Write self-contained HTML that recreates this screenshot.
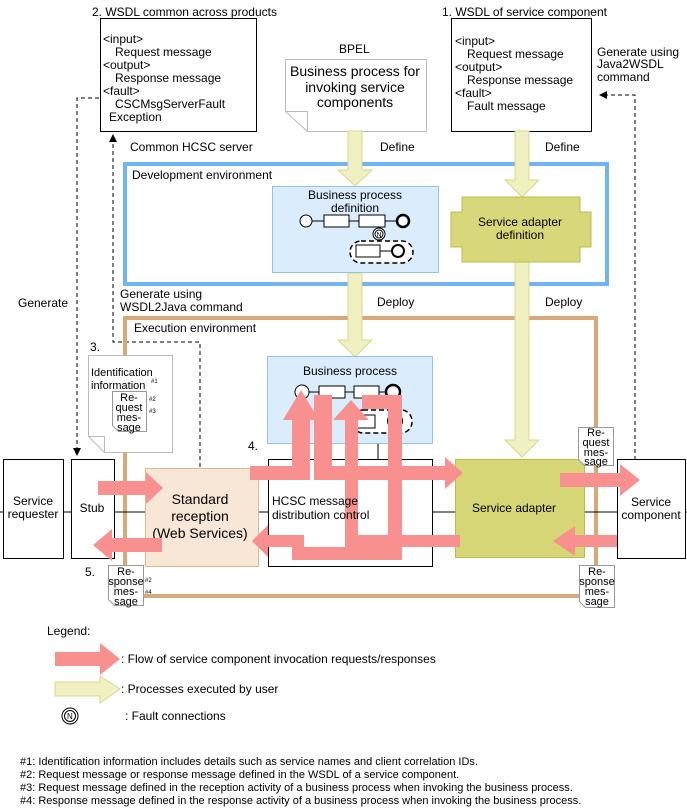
<!DOCTYPE html>
<html><head><meta charset="utf-8"><style>
body{margin:0;background:#fff}
svg{display:block;font-family:"Liberation Sans",sans-serif;font-size:12px}
</style></head><body>
<svg width="687" height="809" viewBox="0 0 687 809" xmlns="http://www.w3.org/2000/svg">
<defs>
<marker id="ah" markerWidth="8" markerHeight="8" refX="7" refY="4" orient="auto" markerUnits="userSpaceOnUse"><path d="M0,0L8,4L0,8z" fill="#000"/></marker>
</defs>
<!-- top WSDL boxes -->
<text x="92" y="16">2.  WSDL common across products</text>
<rect x="100.5" y="18.5" width="156" height="113" fill="#fff" stroke="#000"/>
<text x="103" y="43">&lt;input&gt;</text>
<text x="115" y="56">Request message</text>
<text x="103" y="69">&lt;output&gt;</text>
<text x="115" y="82">Response message</text>
<text x="103" y="95">&lt;fault&gt;</text>
<text x="115" y="108">CSCMsgServerFault</text>
<text x="109" y="121">Exception</text>

<text x="442" y="16">1.   WSDL of service component</text>
<rect x="451.5" y="18.5" width="140" height="113" fill="#fff" stroke="#000"/>
<text x="455" y="45">&lt;input&gt;</text>
<text x="467" y="58">Request message</text>
<text x="455" y="71">&lt;output&gt;</text>
<text x="467" y="84">Response message</text>
<text x="455" y="97">&lt;fault&gt;</text>
<text x="467" y="110">Fault message</text>
<text x="597" y="56">Generate using</text>
<text x="597" y="68">Java2WSDL</text>
<text x="597" y="81">command</text>

<text x="339" y="53">BPEL</text>
<path d="M285.5,59.5H426.5V131.5H307.5L285.5,111.5Z" fill="#fff" stroke="#bbb"/>
<path d="M285.5,111.5H307.5V131.5" fill="none" stroke="#bbb"/>
<g font-size="14" text-anchor="middle"><text x="355" y="76">Business process for</text><text x="355" y="92">invoking service</text><text x="355" y="107">components</text></g>

<!-- dashed connectors -->
<path d="M635,460V95H600" fill="none" stroke="#000" stroke-dasharray="4,3" marker-end="url(#ah)"/>
<path d="M99,98H77V455" fill="none" stroke="#000" stroke-dasharray="4,3" marker-end="url(#ah)"/>
<path d="M200,467V342H113V135" fill="none" stroke="#000" stroke-dasharray="4,3" marker-end="url(#ah)"/>

<text x="130" y="151">Common HCSC server</text>
<text x="380" y="151">Define</text>
<text x="545" y="151">Define</text>
<text x="120" y="298">Generate using</text>
<text x="120" y="311">WSDL2Java command</text>
<text x="377" y="306">Deploy</text>
<text x="545" y="306">Deploy</text>
<text x="18" y="307">Generate</text>

<!-- environments -->
<rect x="125" y="164" width="482" height="120" fill="none" stroke="#70b4f4" stroke-width="4"/>
<text x="132" y="179">Development environment</text>
<rect x="125" y="318" width="471" height="278" fill="none" stroke="#d9a878" stroke-width="4"/>
<text x="134" y="332">Execution environment</text>

<!-- cream arrows -->
<g fill="#f0f0c0" stroke="#d8d890">
<path d="M348,131H362V170H372L355,186L338,170H348Z"/>
<path d="M515,131H529V180H539L522,197L505,180H515Z"/>
<path d="M348,273H362V340H372L355,357L338,340H348Z"/>
<path d="M515,262H529V440H539L522,457L505,440H515Z"/>
</g>

<!-- BP definition -->
<rect x="272.5" y="186.5" width="166" height="86" fill="#dbecfc" stroke="#90c4f0"/>
<g text-anchor="middle"><text x="355" y="199">Business process</text><text x="355" y="212">definition</text></g>
<g stroke="#000" fill="#fff">
<line x1="306" y1="221" x2="400" y2="221"/>
<circle cx="306" cy="221" r="6"/>
<rect x="324" y="215" width="25" height="12"/>
<rect x="359" y="215" width="26" height="12"/>
<circle cx="403" cy="221" r="6" stroke-width="2.5"/>
<rect x="350" y="241" width="63" height="22" rx="11" stroke-dasharray="5,3" stroke-width="1.5"/>
<line x1="380" y1="251" x2="398" y2="251"/>
<rect x="356" y="245" width="24" height="12"/>
<circle cx="398" cy="251" r="6" stroke-width="2"/>
<circle cx="379" cy="234" r="6"/><circle cx="379" cy="234" r="4"/>
</g>
<text x="376.5" y="237" font-size="7">N</text>

<!-- service adapter def -->
<path d="M462,197H580V212H591V247H580V262H462V247H451V212H462Z" fill="#d8d87a" stroke="#bcbc48"/>
<g text-anchor="middle"><text x="520" y="226">Service adapter</text><text x="520" y="239">definition</text></g>

<!-- exec boxes -->
<rect x="267.5" y="356.5" width="165" height="87" fill="#dbecfc" stroke="#90c4f0"/>
<text x="350" y="375" text-anchor="middle">Business process</text>
<g stroke="#000" fill="#fff">
<line x1="302" y1="392" x2="392" y2="392"/>
<circle cx="302" cy="392" r="7"/>
<rect x="319" y="386" width="26" height="12"/>
<rect x="354" y="386" width="25" height="12"/>
<circle cx="393" cy="392" r="7" stroke-width="2.5"/>
<rect x="352" y="410" width="60" height="23" rx="11" stroke-dasharray="5,3" stroke-width="1.5"/>
<rect x="357" y="415" width="18" height="13"/>
<circle cx="395" cy="421" r="7" stroke-width="2"/>
</g>
<line x1="0" y1="512" x2="687" y2="512" stroke="#000"/>
<line x1="378" y1="444" x2="378" y2="459" stroke="#000"/>
<rect x="3.5" y="459.5" width="60" height="99" fill="#fff" stroke="#000"/>
<g text-anchor="middle"><text x="33" y="505">Service</text><text x="33" y="518">requester</text></g>
<rect x="71.5" y="459.5" width="43" height="99" fill="#fff" stroke="#000"/>
<text x="92" y="512" text-anchor="middle">Stub</text>
<rect x="268.5" y="459.5" width="164" height="107" fill="#fff" stroke="#000"/>
<rect x="145.5" y="468.5" width="113" height="98" fill="#f8e6d6" stroke="#e0b890"/>
<g text-anchor="middle" font-size="14"><text x="200" y="504">Standard</text><text x="200" y="521">reception</text><text x="200" y="538">(Web Services)</text></g>
<rect x="455.5" y="459.5" width="129" height="98" fill="#d6d676" stroke="#bcbc48"/>
<text x="514" y="512" text-anchor="middle">Service adapter</text>
<rect x="617.5" y="459.5" width="68" height="99" fill="#fff" stroke="#000"/>
<g text-anchor="middle"><text x="651" y="506">Service</text><text x="651" y="519">component</text></g>

<!-- docs -->
<text x="90" y="351">3.</text>
<path d="M88.5,355.5H172.5V452.5H104.5L88.5,436.5Z" fill="#fff" stroke="#bbb"/>
<path d="M88.5,436.5H104.5V452.5" fill="none" stroke="#bbb"/>
<text x="91" y="376" font-size="11">Identification</text>
<text x="91" y="389" font-size="11">information</text><text x="151" y="383" font-size="6">#1</text>
<g font-size="11" text-anchor="middle">
<path d="M112.5,391.5H146.5V431.5H118.5L112.5,425.5Z" fill="#fff" stroke="#999"/>
<text x="129" y="401">Re-</text><text x="129" y="411">quest</text><text x="129" y="421">mes-</text><text x="129" y="431">sage</text>
</g>
<text x="149" y="401" font-size="6">#2</text><text x="149" y="413" font-size="6">#3</text>

<text x="248" y="450">4.</text>
<text x="85" y="576">5.</text>
<g font-size="11" text-anchor="middle">
<path d="M108.5,565.5H143.5V605.5H114.5L108.5,599.5Z" fill="#fff" stroke="#999"/>
<text x="126" y="575">Re-</text><text x="126" y="585">sponse</text><text x="126" y="595">mes-</text><text x="126" y="605">sage</text>
<path d="M578.5,427.5H613.5V465.5H584.5L578.5,459.5Z" fill="#fff" stroke="#999"/>
<text x="596" y="436">Re-</text><text x="596" y="446">quest</text><text x="596" y="456">mes-</text><text x="596" y="465">sage</text>
<path d="M579.5,565.5H614.5V607.5H585.5L579.5,601.5Z" fill="#fff" stroke="#999"/>
<text x="597" y="575">Re-</text><text x="597" y="585">sponse</text><text x="597" y="595">mes-</text><text x="597" y="605">sage</text>
</g>
<text x="145" y="582" font-size="6">#2</text><text x="145" y="594" font-size="6">#4</text>

<!-- pink flows -->
<g fill="#f89090">
<path d="M98,481H146V472L163,488L146,504V495H98Z"/>
<path d="M162,538V552H112V561L93,545L112,529V538Z"/>
<path d="M250,466H292V420H283L301,390L319,420H310V480H250Z"/>
<path d="M314,395H332V466H445V457L463,473L445,489V480H314Z"/>
<path d="M345,547V420H333L351,400L369,420H358V535H460V547Z"/>
<path d="M362,395H402V560H292V547H268V557L252,541L268,525V535H304V547H388V409H362Z"/>
<path d="M560,473H620V464L640,480L620,496V487H560Z"/>
<path d="M617,535V547H575V556L553,541L575,526V535Z"/>
</g>
<text x="272" y="505">HCSC message</text><text x="272" y="519">distribution control</text>

<!-- legend -->
<text x="47" y="635">Legend:</text>
<path d="M55,652H100V643L120,659L100,675V666H55Z" fill="#f89090"/>
<text x="121" y="663">: Flow of service component invocation requests/responses</text>
<path d="M55,682H100V676L120,689L100,703V696H55Z" fill="#f0f0c0" stroke="#d8d890"/>
<text x="121" y="693">: Processes executed by user</text>
<circle cx="70" cy="716" r="8" fill="#fff" stroke="#000"/><circle cx="70" cy="716" r="5.5" fill="#fff" stroke="#000"/>
<text x="67" y="719" font-size="8">N</text>
<text x="125" y="720">: Fault connections</text>
<g font-size="11">
<text x="20" y="765">#1: Identification information includes details such as service names and client correlation IDs.</text>
<text x="20" y="778">#2: Request message or response message defined in the WSDL of a service component.</text>
<text x="20" y="791">#3: Request message defined in the reception activity of a business process when invoking the business process.</text>
<text x="20" y="804">#4: Response message defined in the response activity of a business process when invoking the business process.</text>
</g>
</svg>
</body></html>
